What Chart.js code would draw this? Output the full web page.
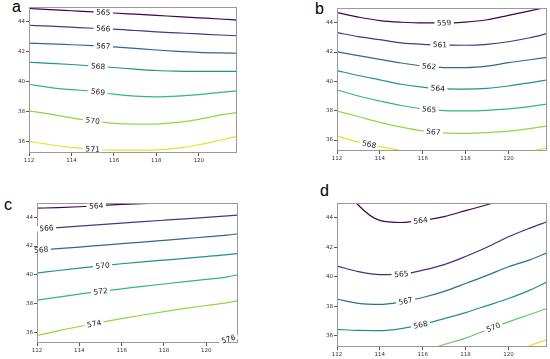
<!DOCTYPE html>
<html>
<head>
<meta charset="utf-8">
<script src="https://cdn.jsdelivr.net/npm/chart.js@4.4.0/dist/chart.umd.min.js"></script>
<style>
    body { margin: 0; background: #fff; width: 550px; height: 359px; position: relative; overflow: hidden; }
    canvas { position: absolute; }
    .tag { position: absolute; font-family: "Liberation Sans", Arial, sans-serif; font-size: 16px; line-height: 16px; color: #000; }
</style>
</head>
<body>
<div class="tag" style="left:12px;top:-1px">a</div>
<div class="tag" style="left:315px;top:1px">b</div>
<div class="tag" style="left:4px;top:197px">c</div>
<div class="tag" style="left:320px;top:183px">d</div>
<canvas id="chartA"></canvas>
<canvas id="chartB"></canvas>
<canvas id="chartC"></canvas>
<canvas id="chartD"></canvas>
<script>
/* ---------- data ---------- */
const xs  = [112, 113, 114, 115, 116, 117, 118, 119, 120, 121, 121.8];
const xsC = [112, 113, 114, 115, 116, 117, 118, 119, 120, 121, 121.5];
const xTicks = [112, 114, 116, 118, 120];
const yTicks = [36, 38, 40, 42, 44];

// panel a
const levelsA = ['565', '566', '567', '568', '569', '570', '571'];
const labelXA = [115.5, 115.5, 115.5, 115.25, 115.25, 115.0, 115.0];
const a565 = [44.9, 44.83, 44.75, 44.67, 44.6, 44.52, 44.44, 44.36, 44.28, 44.2, 44.13];
const a566 = [43.78, 43.72, 43.65, 43.58, 43.52, 43.43, 43.34, 43.27, 43.2, 43.13, 43.08];
const a567 = [42.59, 42.54, 42.48, 42.42, 42.34, 42.24, 42.13, 42.04, 41.97, 41.93, 41.91];
const a568 = [41.31, 41.24, 41.16, 41.06, 40.96, 40.85, 40.76, 40.72, 40.7, 40.7, 40.7];
const a569 = [39.84, 39.62, 39.48, 39.38, 39.18, 39.05, 39.0, 39.05, 39.15, 39.3, 39.4];
const a570 = [38.06, 37.85, 37.6, 37.4, 37.23, 37.18, 37.18, 37.3, 37.5, 37.78, 37.95];
const a571 = [36.03, 35.8, 35.62, 35.5, 35.44, 35.44, 35.46, 35.58, 35.8, 36.1, 36.36];

// panel b
const levelsB = ['559', '561', '562', '564', '565', '567', '568'];
const labelXB = [117.0, 116.8, 116.3, 116.7, 116.3, 116.5, 113.5];
const b559 = [44.68, 44.38, 44.14, 44.03, 43.98, 43.98, 44.04, 44.2, 44.5, 44.8, 45.05];
const b561 = [43.32, 43.05, 42.84, 42.62, 42.52, 42.48, 42.46, 42.52, 42.7, 42.97, 43.25];
const b562 = [42.02, 41.75, 41.5, 41.25, 41.05, 40.94, 40.94, 41.04, 41.27, 41.47, 41.64];
const b564 = [40.73, 40.4, 40.1, 39.8, 39.6, 39.48, 39.47, 39.52, 39.68, 39.9, 40.09];
const b565 = [39.41, 39.0, 38.66, 38.35, 38.12, 38.0, 37.98, 38.02, 38.12, 38.28, 38.45];
const b567 = [37.98, 37.6, 37.2, 36.88, 36.62, 36.48, 36.45, 36.5, 36.6, 36.78, 36.95];
const b568 = [36.27, 35.85, 35.55, 35.28, 35.0, 34.8, 34.7, 34.75, 34.95, 35.22, 35.47];

// panel c
const levelsC = ['564', '566', '568', '570', '572', '574', '576'];
const labelXC = [114.8, 112.45, 112.2, 115.1, 115.0, 114.7, 121.05];
const c564 = [44.64, 44.68, 44.74, 44.82, 44.9, 44.96, 45.02, 45.1, 45.2, 45.3, 45.35];
const c566 = [43.2, 43.29, 43.39, 43.5, 43.6, 43.7, 43.8, 43.9, 44.0, 44.1, 44.16];
const c568 = [41.72, 41.82, 41.93, 42.05, 42.17, 42.28, 42.4, 42.52, 42.64, 42.76, 42.86];
const c570 = [40.12, 40.3, 40.47, 40.62, 40.77, 40.9, 41.02, 41.14, 41.27, 41.4, 41.49];
const c572 = [38.24, 38.45, 38.65, 38.85, 39.02, 39.2, 39.36, 39.52, 39.68, 39.86, 40.0];
const c574 = [35.77, 36.1, 36.4, 36.68, 36.95, 37.2, 37.44, 37.66, 37.86, 38.06, 38.2];
const c576 = [32.4, 32.8, 33.2, 33.55, 33.9, 34.2, 34.45, 34.7, 35.0, 35.5, 35.68];

// panel d
const levelsD = ['564', '565', '567', '568', '570', null];
const labelXD = [115.9, 115.0, 115.2, 115.9, 119.3, null];
const d564 = [46.8, 44.85, 43.82, 43.68, 43.82, 44.08, 44.48, 44.88, 45.3, 45.7, 46.0];
const d565 = [40.73, 40.35, 40.15, 40.18, 40.45, 40.83, 41.38, 42.0, 42.71, 43.3, 43.73];
const d567 = [38.49, 38.2, 38.13, 38.3, 38.6, 39.02, 39.55, 40.1, 40.68, 41.15, 41.63];
const d568 = [36.45, 36.37, 36.36, 36.5, 36.78, 37.17, 37.58, 38.05, 38.53, 39.1, 39.66];
const d570 = [33.3, 33.8, 34.2, 34.6, 34.95, 35.42, 35.85, 36.42, 36.95, 37.45, 37.86];
const d572 = [31.0, 31.4, 31.8, 32.2, 32.6, 33.0, 33.4, 33.9, 34.7, 35.34, 35.75];

const viridis7 = ['#440154', '#443983', '#31688e', '#21918c', '#35b779', '#90d743', '#e6e12a'];
const viridisD = ['#440154', '#472d7b', '#2c728e', '#21918c', '#5ec962', '#e6e12a'];

/* ---------- helpers ---------- */
function interpY(points, x) {
    const n = points.length;
    let i = 0;
    while (i < n - 2 && x > points[i + 1].x) i++;
    const p = points[i], q = points[i + 1];
    return p.y + (q.y - p.y) * (x - p.x) / (q.x - p.x);
}

const contourLabels = {
    id: 'contourLabels',
    afterDatasetsDraw(chart) {
        const ctx = chart.ctx;
        const area = chart.chartArea;
        const sx = chart.scales.x, sy = chart.scales.y;

        ctx.save();
        ctx.strokeStyle = '#999';
        ctx.lineWidth = 1;
        ctx.strokeRect(area.left + 0.5, area.top + 0.5, area.right - area.left - 1, area.bottom - area.top - 1);
        ctx.restore();

        chart.data.datasets.forEach(function(ds) {
            if (ds.labelX == null || !ds.label) return;
            const x0 = ds.labelX;
            const y0 = interpY(ds.data, x0);
            const px = sx.getPixelForValue(x0), py = sy.getPixelForValue(y0);
            const xa = Math.max(ds.data[0].x, x0 - 0.4);
            const xb = Math.min(ds.data[ds.data.length - 1].x, x0 + 0.4);
            const p1x = sx.getPixelForValue(xa), p1y = sy.getPixelForValue(interpY(ds.data, xa));
            const p2x = sx.getPixelForValue(xb), p2y = sy.getPixelForValue(interpY(ds.data, xb));
            const angle = Math.atan2(p2y - p1y, p2x - p1x);

            ctx.save();
            ctx.translate(px, py);
            ctx.rotate(angle);
            ctx.font = '7.5px "DejaVu Sans"';
            const w = ctx.measureText(ds.label).width;
            ctx.fillStyle = '#fff';
            ctx.fillRect(-w / 2 - 2.5, -2.5, w + 5, 5);
            ctx.fillStyle = '#222';
            ctx.textAlign = 'center';
            ctx.textBaseline = 'middle';
            ctx.fillText(ds.label, 0, 0.5);
            ctx.restore();
        });
    }
};

function axisOptions(min, max, ticksArr, isX) {
    return {
        type: 'linear',
        min: min,
        max: max,
        afterFit: function(scale) {
            if (isX) scale.height = 16; else scale.width = 28;
        },
        afterBuildTicks: function(scale) {
            scale.ticks = ticksArr.map(v => ({ value: v }));
        },
        grid: { display: true, drawOnChartArea: false, drawTicks: true, tickLength: 3, color: '#555' },
        border: { display: false },
        ticks: {
            autoSkip: false,
            maxRotation: 0,
            padding: 1,
            color: '#333',
            font: { family: 'DejaVu Sans', size: 5.5 }
        }
    };
}

function makePanel(id, box, xArr, xMax, lines, levels, labelXs, colors) {
    const canvas = document.getElementById(id);
    const w = box.r - box.l + 34, h = box.b - box.t + 22;
    canvas.width = w;
    canvas.height = h;
    canvas.style.width = w + 'px';
    canvas.style.height = h + 'px';
    canvas.style.left = (box.l - 28) + 'px';
    canvas.style.top = (box.t - 6) + 'px';

    new Chart(canvas.getContext('2d'), {
        type: 'line',
        data: {
            datasets: lines.map(function(ys, i) {
                return {
                    label: levels[i],
                    labelX: labelXs[i],
                    data: xArr.map((x, j) => ({ x: x, y: ys[j] })),
                    borderColor: colors[i],
                    borderWidth: 1.2,
                    pointRadius: 0,
                    fill: false,
                    cubicInterpolationMode: 'monotone'
                };
            })
        },
        options: {
            responsive: false,
            animation: false,
            layout: { padding: { top: 6, right: 6, left: 0, bottom: 0 } },
            plugins: { legend: { display: false }, tooltip: { enabled: false } },
            scales: {
                x: axisOptions(112, xMax, xTicks, true),
                y: axisOptions(35.25, 45, yTicks, false)
            }
        },
        plugins: [contourLabels]
    });
}

makePanel('chartA', { l: 29, t: 7, r: 237, b: 153 }, xs, 121.8,
    [a565, a566, a567, a568, a569, a570, a571], levelsA, labelXA, viridis7);
makePanel('chartB', { l: 337, t: 8, r: 547, b: 151 }, xs, 121.8,
    [b559, b561, b562, b564, b565, b567, b568], levelsB, labelXB, viridis7);
makePanel('chartC', { l: 37, t: 203, r: 238, b: 343 }, xsC, 121.5,
    [c564, c566, c568, c570, c572, c574, c576], levelsC, labelXC, viridis7);
makePanel('chartD', { l: 337, t: 203, r: 547, b: 347 }, xs, 121.8,
    [d564, d565, d567, d568, d570, d572], levelsD, labelXD, viridisD);
</script>
</body>
</html>
